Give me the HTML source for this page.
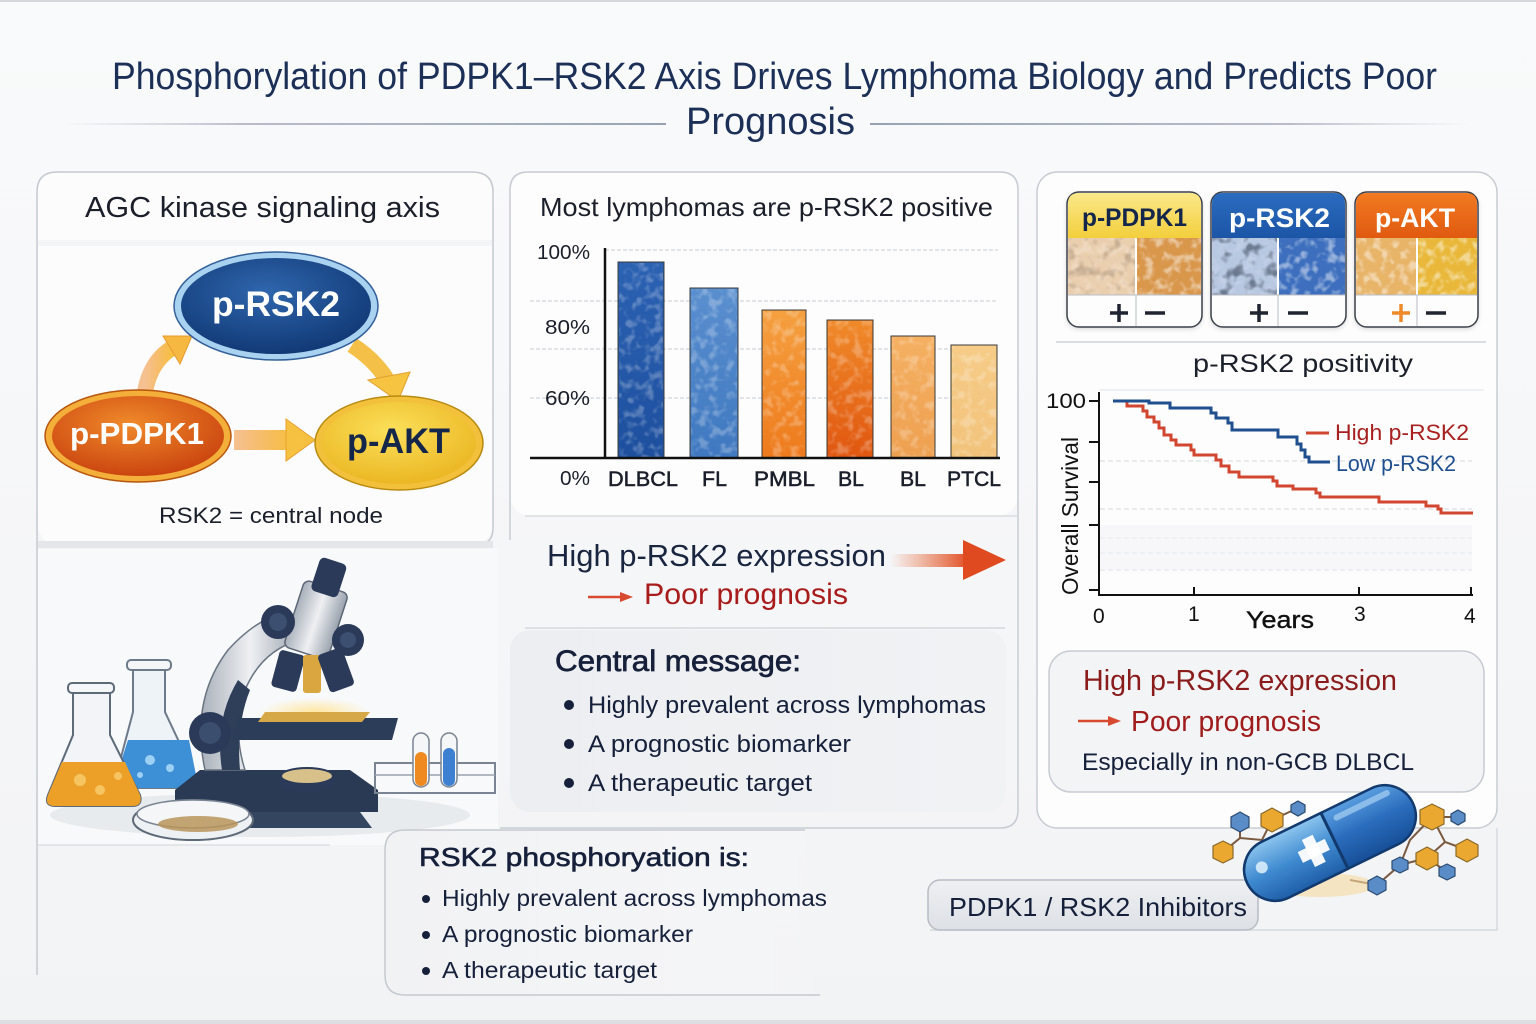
<!DOCTYPE html>
<html><head><meta charset="utf-8"><style>
html,body{margin:0;padding:0;background:#f6f7f9;}
svg{display:block;}
text{font-family:"Liberation Sans",sans-serif;}
</style></head><body>
<svg width="1536" height="1024" viewBox="0 0 1536 1024" xmlns="http://www.w3.org/2000/svg">
<defs>
<linearGradient id="bg" x1="0" y1="0" x2="0" y2="1"><stop offset="0" stop-color="#f9fafb"/><stop offset="1" stop-color="#f2f3f5"/></linearGradient>
<linearGradient id="lineL" x1="0" x2="1"><stop offset="0" stop-color="#c6cad3" stop-opacity="0"/><stop offset="0.3" stop-color="#b8bdc8"/><stop offset="1" stop-color="#9aa2b2"/></linearGradient>
<linearGradient id="lineR" x1="0" x2="1"><stop offset="0" stop-color="#9aa2b2"/><stop offset="0.7" stop-color="#b8bdc8"/><stop offset="1" stop-color="#c6cad3" stop-opacity="0"/></linearGradient>
<radialGradient id="gRsk" cx="0.45" cy="0.35" r="0.7"><stop offset="0" stop-color="#2f66ad"/><stop offset="1" stop-color="#0f3672"/></radialGradient>
<radialGradient id="gPd" cx="0.45" cy="0.35" r="0.7"><stop offset="0" stop-color="#f08a2a"/><stop offset="1" stop-color="#c8400e"/></radialGradient>
<radialGradient id="gAkt" cx="0.45" cy="0.35" r="0.7"><stop offset="0" stop-color="#fbe05a"/><stop offset="1" stop-color="#eab420"/></radialGradient>
<linearGradient id="arrO" x1="0" x2="1"><stop offset="0" stop-color="#f29a4a" stop-opacity="0.6"/><stop offset="1" stop-color="#f6c040"/></linearGradient>
<linearGradient id="arrRed" x1="0" x2="1"><stop offset="0" stop-color="#e8602a" stop-opacity="0"/><stop offset="1" stop-color="#e04a20"/></linearGradient>
<linearGradient id="b1" x1="0" x2="0" y1="0" y2="1"><stop offset="0" stop-color="#2c62b3"/><stop offset="1" stop-color="#1d4f9e"/></linearGradient>
<linearGradient id="b2" x1="0" x2="0" y1="0" y2="1"><stop offset="0" stop-color="#5a8fcf"/><stop offset="1" stop-color="#3f78c0"/></linearGradient>
<linearGradient id="b3" x1="0" x2="0" y1="0" y2="1"><stop offset="0" stop-color="#f5a040"/><stop offset="1" stop-color="#ee7a1c"/></linearGradient>
<linearGradient id="b4" x1="0" x2="0" y1="0" y2="1"><stop offset="0" stop-color="#f08a2a"/><stop offset="1" stop-color="#e0560f"/></linearGradient>
<linearGradient id="b5" x1="0" x2="0" y1="0" y2="1"><stop offset="0" stop-color="#f5b062"/><stop offset="1" stop-color="#eea050"/></linearGradient>
<linearGradient id="b6" x1="0" x2="0" y1="0" y2="1"><stop offset="0" stop-color="#f6cc88"/><stop offset="1" stop-color="#f2c27a"/></linearGradient>
<linearGradient id="hY" x1="0" x2="0" y1="0" y2="1"><stop offset="0" stop-color="#fbe88a"/><stop offset="1" stop-color="#f3cf3c"/></linearGradient>
<linearGradient id="hB" x1="0" x2="0" y1="0" y2="1"><stop offset="0" stop-color="#2b6cc0"/><stop offset="1" stop-color="#1c55a6"/></linearGradient>
<linearGradient id="hO" x1="0" x2="0" y1="0" y2="1"><stop offset="0" stop-color="#f27a22"/><stop offset="1" stop-color="#e05a10"/></linearGradient>
<linearGradient id="cm" x1="0" x2="1"><stop offset="0" stop-color="#eceef1"/><stop offset="1" stop-color="#f1f2f4"/></linearGradient>
<linearGradient id="bl" x1="0" x2="1"><stop offset="0" stop-color="#f1f2f4"/><stop offset="0.75" stop-color="#f4f5f6"/><stop offset="1" stop-color="#f7f8f9" stop-opacity="0"/></linearGradient>
<linearGradient id="inh" x1="0" x2="0" y1="0" y2="1"><stop offset="0" stop-color="#eef0f3"/><stop offset="1" stop-color="#dde0e5"/></linearGradient>
<linearGradient id="pillL" x1="0" x2="0" y1="0" y2="1"><stop offset="0" stop-color="#8cc4ee"/><stop offset="0.5" stop-color="#3f8ad0"/><stop offset="1" stop-color="#1f5ea8"/></linearGradient>
<linearGradient id="pillR" x1="0" x2="0" y1="0" y2="1"><stop offset="0" stop-color="#5a9ee0"/><stop offset="0.5" stop-color="#2a6cbc"/><stop offset="1" stop-color="#174f98"/></linearGradient>
<linearGradient id="metal" x1="0" x2="1"><stop offset="0" stop-color="#a9b0ba"/><stop offset="0.5" stop-color="#eef0f3"/><stop offset="1" stop-color="#9aa2ad"/></linearGradient>
<radialGradient id="glow" cx="0.5" cy="0.5" r="0.5"><stop offset="0" stop-color="#ffe6a0"/><stop offset="1" stop-color="#ffe6a0" stop-opacity="0"/></radialGradient>
<filter id="speck" x="0" y="0" width="100%" height="100%">
 <feTurbulence type="fractalNoise" baseFrequency="0.11" numOctaves="2" seed="5" result="n"/>
 <feColorMatrix in="n" type="matrix" values="0 0 0 0 1 0 0 0 0 1 0 0 0 0 1 0 0 0 4 -1.9" result="a"/>
 <feComposite in="a" in2="SourceGraphic" operator="in"/>
</filter>
<filter id="speckD" x="0" y="0" width="100%" height="100%">
 <feTurbulence type="fractalNoise" baseFrequency="0.09" numOctaves="2" seed="11" result="n"/>
 <feColorMatrix in="n" type="matrix" values="0 0 0 0 0 0 0 0 0 0 0 0 0 0 0 0 0 0 4 -2.0" result="a"/>
 <feComposite in="a" in2="SourceGraphic" operator="in"/>
</filter>
<filter id="sh" x="-5%" y="-5%" width="110%" height="115%"><feDropShadow dx="0" dy="2" stdDeviation="2" flood-color="#000" flood-opacity="0.12"/></filter>
</defs>

<rect width="1536" height="1024" fill="url(#bg)"/>
<rect x="0" y="0" width="1536" height="2" fill="#d4d7dc"/>
<rect x="0" y="1020" width="1536" height="4" fill="#dcdee2"/>

<!-- Title -->
<text x="112" y="89" font-size="38" fill="#1c2f57" textLength="1325" lengthAdjust="spacingAndGlyphs">Phosphorylation of PDPK1–RSK2 Axis Drives Lymphoma Biology and Predicts Poor</text>
<text x="686" y="134" font-size="38" fill="#1c2f57" textLength="169" lengthAdjust="spacingAndGlyphs">Prognosis</text>
<rect x="60" y="123" width="606" height="2" fill="url(#lineL)"/>
<rect x="870" y="123" width="600" height="2" fill="url(#lineR)"/>

<!-- LEFT PANEL -->
<path d="M37 975 V192 Q37 172 57 172 H472 Q493 172 493 192 V528 Q493 545 476 545" fill="none" stroke="#c5c9cf" stroke-width="1.5"/>
<rect x="38" y="173" width="454" height="371" rx="18" fill="#fcfcfd"/>
<rect x="38" y="240" width="454" height="6" fill="#f1f2f4" opacity="0.7"/>
<rect x="38" y="541" width="455" height="7" fill="#e4e6e9"/>
<text x="85" y="217" font-size="29" fill="#1b1f2a" textLength="355" lengthAdjust="spacingAndGlyphs">AGC kinase signaling axis</text>

<!-- arrows -->
<path d="M145 392 Q150 362 172 348" fill="none" stroke="url(#arrO)" stroke-width="16" stroke-linecap="round"/>
<polygon points="163,336 192,336 180,364" fill="#f6b840" stroke="#e89a30" stroke-width="1"/>
<path d="M352 345 Q378 362 390 385" fill="none" stroke="#f4c048" stroke-width="16"/>
<polygon points="368,380 410,372 398,401" fill="#f6c440" stroke="#e0a030" stroke-width="1"/>
<rect x="234" y="430" width="56" height="20" fill="url(#arrO)"/>
<polygon points="286,419 315,440 286,461" fill="#f6c040" stroke="#e8a030" stroke-width="1"/>

<ellipse cx="276" cy="306" rx="102" ry="54" fill="#a8d2f0" stroke="#34619a" stroke-width="1.5"/>
<ellipse cx="276" cy="306" rx="95" ry="48" fill="url(#gRsk)"/>
<text x="212" y="316" font-size="35" fill="#ffffff" font-weight="bold" textLength="128" lengthAdjust="spacingAndGlyphs">p-RSK2</text>

<ellipse cx="138" cy="436" rx="93" ry="46" fill="#f4ae3a" stroke="#b8560e" stroke-width="1.5"/>
<ellipse cx="138" cy="436" rx="86" ry="40" fill="url(#gPd)"/>
<text x="70" y="444" font-size="31" fill="#ffffff" font-weight="bold" textLength="134" lengthAdjust="spacingAndGlyphs">p-PDPK1</text>

<ellipse cx="399" cy="443" rx="84" ry="47" fill="#f2c03a" stroke="#b88a10" stroke-width="1.5"/>
<ellipse cx="399" cy="443" rx="77" ry="41" fill="url(#gAkt)"/>
<text x="347" y="453" font-size="35" fill="#14264a" font-weight="bold" textLength="103" lengthAdjust="spacingAndGlyphs">p-AKT</text>

<text x="159" y="523" font-size="22" fill="#1b1f2a" textLength="224" lengthAdjust="spacingAndGlyphs">RSK2 = central node</text>

<!-- Lab illustration -->
<rect x="38" y="549" width="460" height="296" fill="#f8f9fa"/>
<line x1="38" y1="845" x2="330" y2="845" stroke="#dde0e4" stroke-width="1.5"/>
<ellipse cx="260" cy="815" rx="210" ry="22" fill="#e4e7eb" opacity="0.8"/>
<!-- blue flask -->
<path d="M133 668 H165 V712 L197 780 Q199 788 190 788 H122 Q112 788 115 780 L133 712 Z" fill="#eef3f8" stroke="#6d7a8a" stroke-width="2"/>
<path d="M128 740 H189 L197 780 Q199 788 190 788 H122 Q112 788 115 780 Z" fill="#3d8fd6"/>
<circle cx="150" cy="760" r="5" fill="#9cd0f5"/><circle cx="170" cy="768" r="4" fill="#9cd0f5"/><circle cx="140" cy="775" r="3" fill="#9cd0f5"/>
<rect x="127" y="660" width="44" height="10" rx="4" fill="#f4f6f8" stroke="#6d7a8a" stroke-width="2"/>
<!-- orange flask -->
<path d="M73 692 H110 V735 L140 795 Q143 806 132 806 H55 Q44 806 48 795 L73 735 Z" fill="#f2f4f7" stroke="#5e6a78" stroke-width="2"/>
<path d="M62 762 H125 L140 795 Q143 806 132 806 H55 Q44 806 48 795 Z" fill="#eca028"/>
<circle cx="80" cy="780" r="6" fill="#f6c460"/><circle cx="100" cy="790" r="5" fill="#f6c460"/><circle cx="118" cy="776" r="4" fill="#f6c460"/>
<rect x="68" y="683" width="46" height="10" rx="4" fill="#f4f6f8" stroke="#5e6a78" stroke-width="2"/>
<!-- microscope -->
<path d="M175 790 L200 770 H350 L378 790 V812 H175 Z" fill="#2a3a55"/>
<path d="M225 812 H360 L372 828 H240 Z" fill="#33455f"/>
<path d="M205 770 Q190 700 228 650 Q255 620 285 612 L300 640 Q262 650 245 690 Q232 730 245 770 Z" fill="url(#metal)" stroke="#6a7482" stroke-width="1.5"/>
<path d="M222 770 Q214 720 238 680 L250 690 Q236 725 240 770 Z" fill="#2f3f5a"/>
<rect x="293" y="585" width="46" height="70" rx="6" fill="url(#metal)" stroke="#5c6676" stroke-width="1.5" transform="rotate(18 316 620)"/>
<rect x="315" y="560" width="28" height="35" rx="5" fill="#2a3a58" transform="rotate(18 329 577)"/>
<circle cx="278" cy="622" r="17" fill="#2a3a58"/><circle cx="278" cy="622" r="9" fill="#3c4f70"/>
<circle cx="348" cy="640" r="16" fill="#2a3a58"/><circle cx="348" cy="640" r="8" fill="#3c4f70"/>
<rect x="275" y="652" width="26" height="38" rx="4" fill="#2a3a58" transform="rotate(15 288 671)"/>
<rect x="303" y="655" width="18" height="38" rx="3" fill="#d9a640"/>
<rect x="323" y="650" width="26" height="40" rx="4" fill="#2a3a58" transform="rotate(-20 336 670)"/>
<ellipse cx="315" cy="712" rx="55" ry="14" fill="url(#glow)"/>
<path d="M238 718 H398 L392 740 H232 Z" fill="#2c3d5a"/>
<path d="M265 712 H370 L362 722 H258 Z" fill="#d6a848"/>
<circle cx="210" cy="733" r="21" fill="#2a3a58"/><circle cx="210" cy="733" r="11" fill="#3b4e6e"/>
<ellipse cx="307" cy="782" rx="28" ry="10" fill="#2a3a58"/>
<ellipse cx="307" cy="776" rx="26" ry="8" fill="#d8c08a" stroke="#2a3a58" stroke-width="2"/>
<!-- petri dish -->
<ellipse cx="193" cy="820" rx="60" ry="20" fill="#eef1f4" stroke="#5e6a78" stroke-width="2"/>
<ellipse cx="193" cy="814" rx="56" ry="14" fill="#f4f6f8" stroke="#7a8492" stroke-width="1.5"/>
<ellipse cx="198" cy="824" rx="40" ry="8" fill="#b8945a" opacity="0.85"/>
<!-- rack -->
<rect x="375" y="763" width="120" height="30" fill="none" stroke="#7a8492" stroke-width="2"/>
<line x1="375" y1="775" x2="495" y2="775" stroke="#9aa2ad" stroke-width="1.5"/>
<rect x="413" y="733" width="16" height="54" rx="8" fill="#f4f6f8" stroke="#7a8492" stroke-width="1.5"/>
<rect x="415" y="752" width="12" height="34" rx="6" fill="#ee8a20"/>
<rect x="441" y="733" width="16" height="54" rx="8" fill="#f4f6f8" stroke="#7a8492" stroke-width="1.5"/>
<rect x="443" y="748" width="12" height="38" rx="6" fill="#3d7fd0"/>

<!-- MIDDLE COLUMN -->
<path d="M500 828 H1000 Q1018 828 1018 810 V190 Q1018 172 1000 172 H528 Q510 172 510 190 V540" fill="none" stroke="#c8cbd1" stroke-width="1.5"/>
<rect x="511" y="173" width="506" height="342" rx="17" fill="#fdfdfd"/>
<line x1="525" y1="516" x2="1017" y2="516" stroke="#dadde1" stroke-width="1.5"/>
<text x="540" y="216" font-size="26" fill="#1b1f2a" textLength="453" lengthAdjust="spacingAndGlyphs">Most lymphomas are p-RSK2 positive</text>
<!-- gridlines -->
<g stroke="#c9ccd2" stroke-width="1" stroke-dasharray="4 2">
<line x1="605" y1="250" x2="998" y2="250"/>
<line x1="530" y1="301" x2="998" y2="301"/>
<line x1="530" y1="349" x2="998" y2="349"/>
<line x1="530" y1="398" x2="998" y2="398"/>
</g>
<!-- bars -->
<g stroke="#3a3a3a" stroke-width="1">
<rect x="618" y="262" width="46" height="196" fill="url(#b1)"/>
<rect x="690" y="288" width="48" height="170" fill="url(#b2)"/>
<rect x="762" y="310" width="44" height="148" fill="url(#b3)"/>
<rect x="827" y="320" width="46" height="138" fill="url(#b4)"/>
<rect x="891" y="336" width="44" height="122" fill="url(#b5)"/>
<rect x="951" y="345" width="46" height="113" fill="url(#b6)"/>
</g>
<g filter="url(#speck)" opacity="0.25">
<rect x="619" y="263" width="44" height="194"/>
<rect x="691" y="289" width="46" height="168"/>
<rect x="763" y="311" width="42" height="146"/>
<rect x="828" y="321" width="44" height="136"/>
<rect x="892" y="337" width="42" height="120"/>
<rect x="952" y="346" width="44" height="111"/>
</g>
<line x1="605" y1="248" x2="605" y2="459" stroke="#111" stroke-width="2.5"/>
<line x1="530" y1="458" x2="1000" y2="458" stroke="#111" stroke-width="2.5"/>
<g font-size="20" fill="#1b1f2a">
<text x="537" y="259" textLength="53" lengthAdjust="spacingAndGlyphs">100%</text>
<text x="545" y="334" textLength="45" lengthAdjust="spacingAndGlyphs">80%</text>
<text x="545" y="405" textLength="45" lengthAdjust="spacingAndGlyphs">60%</text>
<text x="560" y="485" textLength="30" lengthAdjust="spacingAndGlyphs">0%</text>
</g>
<g font-size="21" fill="#1b1f2a" stroke="#1b1f2a" stroke-width="0.5">
<text x="608" y="486" textLength="70" lengthAdjust="spacingAndGlyphs">DLBCL</text>
<text x="702" y="486" textLength="25" lengthAdjust="spacingAndGlyphs">FL</text>
<text x="754" y="486" textLength="61" lengthAdjust="spacingAndGlyphs">PMBL</text>
<text x="838" y="486" textLength="26" lengthAdjust="spacingAndGlyphs">BL</text>
<text x="900" y="486" textLength="26" lengthAdjust="spacingAndGlyphs">BL</text>
<text x="947" y="486" textLength="54" lengthAdjust="spacingAndGlyphs">PTCL</text>
</g>

<!-- High p-RSK2 expression middle -->
<text x="547" y="566" font-size="31" fill="#1a2540" textLength="339" lengthAdjust="spacingAndGlyphs">High p-RSK2 expression</text>
<rect x="890" y="554" width="80" height="13" fill="url(#arrRed)"/>
<polygon points="963,540 1006,560 963,580" fill="#e04a20"/>
<line x1="588" y1="597" x2="622" y2="597" stroke="#d84a30" stroke-width="2.5"/>
<polygon points="620,592 633,597 620,602" fill="#d84a30"/>
<text x="644" y="604" font-size="30" fill="#a81c1c" textLength="204" lengthAdjust="spacingAndGlyphs">Poor prognosis</text>
<line x1="525" y1="628" x2="1005" y2="628" stroke="#d4d7dc" stroke-width="1.5"/>

<!-- Central message -->
<rect x="510" y="630" width="496" height="182" rx="20" fill="url(#cm)"/>
<text x="555" y="671" font-size="30" fill="#16203a" stroke="#16203a" stroke-width="0.7" textLength="246" lengthAdjust="spacingAndGlyphs">Central message:</text>
<g fill="#16203a"><circle cx="569" cy="705" r="5"/><circle cx="569" cy="744" r="5"/><circle cx="569" cy="783" r="5"/></g>
<g font-size="24" fill="#16203a">
<text x="588" y="713" textLength="398" lengthAdjust="spacingAndGlyphs">Highly prevalent across lymphomas</text>
<text x="588" y="752" textLength="263" lengthAdjust="spacingAndGlyphs">A prognostic biomarker</text>
<text x="588" y="791" textLength="224" lengthAdjust="spacingAndGlyphs">A therapeutic target</text>
</g>

<!-- Bottom-left box -->
<path d="M805 830 H405 Q385 830 385 850 V975 Q385 995 405 995 H820" fill="url(#bl)" stroke="#c5c9cf" stroke-width="1.5"/>
<text x="419" y="866" font-size="26" fill="#16203a" stroke="#16203a" stroke-width="0.6" textLength="330" lengthAdjust="spacingAndGlyphs">RSK2 phosphoryation is:</text>
<g fill="#16203a"><circle cx="426" cy="899" r="4"/><circle cx="426" cy="935" r="4"/><circle cx="426" cy="971" r="4"/></g>
<g font-size="23" fill="#16203a">
<text x="442" y="906" textLength="385" lengthAdjust="spacingAndGlyphs">Highly prevalent across lymphomas</text>
<text x="442" y="942" textLength="251" lengthAdjust="spacingAndGlyphs">A prognostic biomarker</text>
<text x="442" y="978" textLength="215" lengthAdjust="spacingAndGlyphs">A therapeutic target</text>
</g>

<!-- RIGHT PANEL -->
<rect x="930" y="830" width="567" height="100" fill="#f3f4f6"/>
<path d="M1497 828 V930 H930" fill="none" stroke="#d6d9dd" stroke-width="1.5"/>
<rect x="1037" y="172" width="460" height="656" rx="20" fill="#fdfdfd" stroke="#c8cbd1" stroke-width="1.5"/>

<!-- IHC cards -->
<g filter="url(#sh)">
<rect x="1067" y="192" width="135" height="135" rx="12" fill="#fdfdfd" stroke="#3a3f48" stroke-width="1.5"/>
<rect x="1211" y="192" width="135" height="135" rx="12" fill="#fdfdfd" stroke="#3a3f48" stroke-width="1.5"/>
<rect x="1355" y="192" width="123" height="135" rx="12" fill="#fdfdfd" stroke="#3a3f48" stroke-width="1.5"/>
</g>
<path d="M1068 238 V204 Q1068 193 1079 193 H1190 Q1201 193 1201 204 V238 Z" fill="url(#hY)"/>
<path d="M1212 238 V204 Q1212 193 1223 193 H1334 Q1345 193 1345 204 V238 Z" fill="url(#hB)"/>
<path d="M1356 238 V204 Q1356 193 1367 193 H1466 Q1477 193 1477 204 V238 Z" fill="url(#hO)"/>
<rect x="1068" y="238" width="67" height="57" fill="#f1e0cc"/>
<rect x="1137" y="238" width="64" height="57" fill="#d9974c"/>
<rect x="1212" y="238" width="65" height="57" fill="#e2e7ef"/>
<rect x="1279" y="238" width="66" height="57" fill="#3d6fbe"/>
<rect x="1356" y="238" width="60" height="57" fill="#e8b468"/>
<rect x="1418" y="238" width="59" height="57" fill="#e9b83a"/>
<g filter="url(#speck)" opacity="0.45">
<rect x="1068" y="238" width="67" height="57"/><rect x="1137" y="238" width="64" height="57"/>
<rect x="1212" y="238" width="65" height="57"/><rect x="1279" y="238" width="66" height="57"/>
<rect x="1356" y="238" width="60" height="57"/><rect x="1418" y="238" width="59" height="57"/>
</g>
<g filter="url(#speckD)">
<rect x="1212" y="238" width="65" height="57" opacity="0.45"/>
<rect x="1068" y="238" width="67" height="57" opacity="0.2"/>
</g>
<rect x="1212" y="238" width="65" height="57" fill="#3a6ab8" opacity="0.25"/>
<rect x="1068" y="238" width="67" height="57" fill="#d89a58" opacity="0.25"/>
<g stroke="#b9bdc4" stroke-width="1">
<line x1="1136" y1="295" x2="1136" y2="326"/><line x1="1278" y1="295" x2="1278" y2="326"/><line x1="1417" y1="295" x2="1417" y2="326"/>
<line x1="1068" y1="295" x2="1201" y2="295"/><line x1="1212" y1="295" x2="1345" y2="295"/><line x1="1356" y1="295" x2="1477" y2="295"/>
</g>
<g stroke="#1f2430" stroke-width="3.5">
<line x1="1110" y1="313" x2="1128" y2="313"/><line x1="1119" y1="304" x2="1119" y2="322"/>
<line x1="1145" y1="313" x2="1165" y2="313"/>
<line x1="1250" y1="313" x2="1268" y2="313"/><line x1="1259" y1="304" x2="1259" y2="322"/>
<line x1="1288" y1="313" x2="1308" y2="313"/>
<line x1="1426" y1="313" x2="1446" y2="313"/>
</g>
<g stroke="#ee8a2a" stroke-width="3.5"><line x1="1392" y1="313" x2="1410" y2="313"/><line x1="1401" y1="304" x2="1401" y2="322"/></g>
<text x="1082" y="226" font-size="25" fill="#14264a" font-weight="bold" textLength="105" lengthAdjust="spacingAndGlyphs">p-PDPK1</text>
<text x="1229" y="227" font-size="27" fill="#ffffff" font-weight="bold" textLength="101" lengthAdjust="spacingAndGlyphs">p-RSK2</text>
<text x="1375" y="227" font-size="27" fill="#ffffff" font-weight="bold" textLength="80" lengthAdjust="spacingAndGlyphs">p-AKT</text>

<line x1="1056" y1="342" x2="1486" y2="342" stroke="#d0d3d8" stroke-width="1.5"/>
<text x="1193" y="372" font-size="25" fill="#1b1f2a" textLength="220" lengthAdjust="spacingAndGlyphs">p-RSK2 positivity</text>

<!-- KM plot -->
<line x1="1099" y1="390" x2="1484" y2="390" stroke="#dfe2e6" stroke-width="1"/>
<g stroke="#d4d8de" stroke-width="1" stroke-dasharray="5 3">
<line x1="1100" y1="461" x2="1472" y2="461"/>
<line x1="1100" y1="509" x2="1472" y2="509"/>
<line x1="1100" y1="538" x2="1472" y2="538"/>
<line x1="1100" y1="553" x2="1472" y2="553"/>
<line x1="1100" y1="570" x2="1472" y2="570"/>
</g>
<rect x="1100" y="525" width="372" height="45" fill="#f3f4f6" opacity="0.6"/>
<line x1="1099" y1="392" x2="1099" y2="596" stroke="#111" stroke-width="2"/>
<line x1="1098" y1="595" x2="1473" y2="595" stroke="#111" stroke-width="2"/>
<g stroke="#111" stroke-width="2">
<line x1="1089" y1="401" x2="1099" y2="401"/><line x1="1089" y1="442" x2="1099" y2="442"/>
<line x1="1089" y1="482" x2="1099" y2="482"/><line x1="1089" y1="525" x2="1099" y2="525"/>
<line x1="1089" y1="590" x2="1099" y2="590"/>
<line x1="1194" y1="587" x2="1194" y2="595"/><line x1="1359" y1="587" x2="1359" y2="595"/><line x1="1471" y1="587" x2="1471" y2="595"/>
</g>
<text x="1046" y="408" font-size="21" fill="#111" textLength="40" lengthAdjust="spacingAndGlyphs">100</text>
<g font-size="21" fill="#111">
<text x="1093" y="623">0</text>
<text x="1188" y="621">1</text>
<text x="1354" y="621">3</text>
<text x="1464" y="623">4</text>
</g>
<text x="1246" y="628" font-size="24" fill="#111" stroke="#111" stroke-width="0.4" textLength="68" lengthAdjust="spacingAndGlyphs">Years</text>
<text transform="translate(1078 595) rotate(-90)" font-size="23" fill="#111" textLength="158" lengthAdjust="spacingAndGlyphs">Overall Survival</text>
<path d="M1113 401 H1127 V406 H1143 V411 H1147 V417 H1154 V422 H1159 V428 H1164 V435 H1171 V440 H1176 V445 H1191 V450 H1194 V455 H1216 V460 H1221 V466 H1229 V472 H1239 V477 H1273 V481 H1277 V486 H1293 V489 H1316 V493 H1320 V497 H1379 V502 H1426 V506 H1438 V509 H1441 V513 H1473" fill="none" stroke="#d2452e" stroke-width="3"/>
<path d="M1113 401 H1149 V403 H1170 V408 H1211 V413 H1216 V418 H1228 V423 H1232 V430 H1278 V437 H1297 V444 H1301 V450 H1305 V457 H1309 V462 H1330" fill="none" stroke="#1f4f8f" stroke-width="3"/>
<line x1="1306" y1="433" x2="1329" y2="433" stroke="#d2452e" stroke-width="3"/>
<text x="1335" y="440" font-size="22" fill="#a82020" textLength="134" lengthAdjust="spacingAndGlyphs">High p-RSK2</text>
<text x="1336" y="471" font-size="22" fill="#1f4f8f" textLength="120" lengthAdjust="spacingAndGlyphs">Low p-RSK2</text>

<!-- right bottom box -->
<rect x="1049" y="651" width="435" height="141" rx="22" fill="#f3f4f6" stroke="#c8ccd2" stroke-width="1.5"/>
<text x="1083" y="690" font-size="29" fill="#8a1c1c" textLength="314" lengthAdjust="spacingAndGlyphs">High p-RSK2 expression</text>
<line x1="1078" y1="721" x2="1110" y2="721" stroke="#d84a30" stroke-width="2.5"/>
<polygon points="1108,716 1121,721 1108,726" fill="#d84a30"/>
<text x="1131" y="731" font-size="29" fill="#a01c1c" textLength="190" lengthAdjust="spacingAndGlyphs">Poor prognosis</text>
<text x="1082" y="770" font-size="24" fill="#16203a" textLength="332" lengthAdjust="spacingAndGlyphs">Especially in non-GCB DLBCL</text>

<!-- Inhibitors box -->
<rect x="928" y="880" width="330" height="50" rx="12" fill="url(#inh)" stroke="#b8bcc4" stroke-width="1.5"/>
<text x="949" y="916" font-size="26" fill="#16203a" textLength="298" lengthAdjust="spacingAndGlyphs">PDPK1 / RSK2 Inhibitors</text>

<!-- molecules -->
<g stroke="#7a5a40" stroke-width="2" fill="none">
<path d="M1223 852 L1240 838 L1240 822 M1240 838 L1262 840 L1272 820 L1298 808 M1262 840 L1275 860"/>
<path d="M1432 817 L1410 840 L1400 865 L1377 885 M1432 817 L1458 817 M1432 817 L1445 842 L1467 850 M1445 842 L1427 858 L1447 872 M1427 858 L1400 865 M1377 885 L1350 880"/>
</g>
<ellipse cx="1320" cy="885" rx="55" ry="12" fill="#f6d9a0" opacity="0.6"/>
<g stroke="#8a6a2a" stroke-width="1.2">
<polygon points="1272,808 1283,814 1283,826 1272,832 1261,826 1261,814" fill="#eba830"/>
<polygon points="1223,841 1233,846 1233,858 1223,863 1213,858 1213,846" fill="#eba830"/>
<polygon points="1432,804 1444,810 1444,824 1432,830 1420,824 1420,810" fill="#eba830"/>
<polygon points="1467,839 1478,845 1478,856 1467,862 1456,856 1456,845" fill="#eba830"/>
<polygon points="1427,847 1438,853 1438,864 1427,870 1416,864 1416,853" fill="#eba830"/>
</g>
<g stroke="#2a4a70" stroke-width="1.2" fill="#5a8cc8">
<polygon points="1240,812 1249,817 1249,827 1240,832 1231,827 1231,817"/>
<polygon points="1298,801 1305,805 1305,812 1298,816 1291,812 1291,805"/>
<polygon points="1458,810 1465,814 1465,821 1458,825 1451,821 1451,814"/>
<polygon points="1400,857 1408,861 1408,869 1400,873 1392,869 1392,861"/>
<polygon points="1447,864 1455,868 1455,876 1447,880 1439,876 1439,868"/>
<polygon points="1377,876 1386,881 1386,890 1377,895 1368,890 1368,881"/>
</g>
<!-- pill -->
<g transform="translate(1330 843) rotate(-26)">
<rect x="-92" y="-31" width="184" height="62" rx="31" fill="url(#pillR)" stroke="#123a6e" stroke-width="2.5"/>
<path d="M5 -31 H-61 A31 31 0 0 0 -61 31 H5 Z" fill="url(#pillL)" stroke="#123a6e" stroke-width="2.5"/>
<line x1="5" y1="-31" x2="5" y2="31" stroke="#123a6e" stroke-width="3"/>
<rect x="-33" y="-6" width="30" height="12" fill="#ffffff" opacity="0.95"/>
<rect x="-24" y="-15" width="12" height="30" fill="#ffffff" opacity="0.95"/>
<circle cx="-72" cy="-8" r="6" fill="#d8ecfb" opacity="0.9"/>
<rect x="14" y="-23" width="62" height="6" rx="3" fill="#a8d2f4" opacity="0.7"/>
</g>
</svg>
</body></html>
